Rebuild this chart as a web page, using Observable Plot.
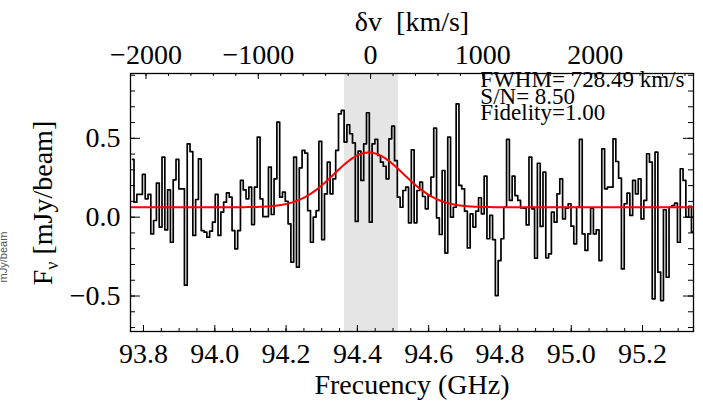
<!DOCTYPE html>
<html><head><meta charset="utf-8">
<script src="https://cdn.jsdelivr.net/npm/d3@7"></script>
<script src="https://cdn.jsdelivr.net/npm/@observablehq/plot@0.6"></script>
<style>
html,body{margin:0;padding:0;background:#fff;}
#chart{width:703px;height:404px;overflow:hidden;}
</style></head><body><div id="chart"></div>
<script>
// Spectrum channel fluxes (mJy/beam), read left to right
const fluxLow = [0.366,0.095,0.144,0.144,0.271,0.116,0.144,-0.106,-0.021,0.216,-0.063,0.381,-0.080,0.173,-0.159,0.237,0.366,0.180,0.180,-0.431,0.465,0.416,-0.116,0.112,0.370,-0.085,-0.095,-0.127,-0.089,-0.032,0.144,-0.116,0.032,0.095,0.154,0.127,-0.085,-0.201,-0.085,0.233,0.173,0.116,0.190,-0.047,0.190,0.507,0.116,0.004,0.004,0.317,0.017,0.243,0.603,0.127,0.159,0.101,-0.042,-0.285,0.381,-0.317,0.313,0.423,0.406];
const fluxMid = [0.042,-0.159,0.0,0.042,0.480,-0.142,0.148,0.349,0.148,0.243,0.423,0.655,0.677,0.476,0.586,0.529,0.471,-0.027,0.419,0.233,0.465,0.662,-0.032,0.465,0.493,0.391,0.349,0.323,0.243,0.497,0.577,0.359,0.127,0.063,0.169,0.190,-0.036,0.427,-0.036,0.169,0.222,0.131,0.053,0.137,0.254,0.564,-0.004,-0.110,0.296,-0.228,0.507,0.0,0.063,0.719,0.201,0.180,0.038,-0.195,0.021,-0.063,0.038,0.123,0.021,0.260,-0.137,0.011,-0.142];
const fluxHigh = [-0.497,-0.275,-0.137,0.063,0.493,0.106,0.260,0.137,0.106,0.059,0.057,-0.049,0.381,0.053,-0.260,0.342,-0.059,0.285,-0.258,-0.233,0.032,-0.032,0.148,0.243,-0.011,0.057,0.085,-0.057,-0.169,0.063,0.493,-0.106,-0.211,-0.106,0.057,-0.106,-0.080,-0.275,0.433,0.180,0.190,0.190,0.497,0.353,0.247,-0.328,0.085,0.152,0.011,0.233,0.148,0.243,-0.011,0.106,0.402,0.349,-0.518,0.412,-0.349,-0.529,0.047,-0.381,0.063,0.074,0.089,-0.159,0.307,0.233,0.0,0.068,-0.095];
const flux = fluxLow.concat(fluxMid, fluxHigh);
const firstChannelGHz = 93.7694;
const channelWidthGHz = 0.007859;

// Gaussian fit parameters
const fitBaseline = 0.063;
const fitAmplitude = 0.347;
const fitCenterGHz = 94.432;
const fitFWHMkms = 728.49;

// Axes
const freqDomain = [93.7635, 95.343];
const fluxDomain = [-0.725, 0.911];
const freqTicks = [93.8, 94.0, 94.2, 94.4, 94.6, 94.8, 95.0, 95.2];
const fluxTicks = [-0.5, 0.0, 0.5];
const velTicks = [-2000, -1000, 0, 1000, 2000];
const restFreqGHz = 94.437;
const lineWindowGHz = [94.364, 94.515];
const noteFreqGHz = 94.745;
const noteLines = ["FWHM= 728.49 km/s", "S/N= 8.50", "Fidelity=1.00"];

const C_KMS = 299792.458;
const v2f = v => restFreqGHz * (1 + v / C_KMS);
const f2v = f => (f / restFreqGHz - 1) * C_KMS;

const spectrum = flux.map((y, i) => ({f: firstChannelGHz + i * channelWidthGHz, y}));
const sigmaGHz = fitFWHMkms / C_KMS * fitCenterGHz / (2 * Math.sqrt(2 * Math.log(2)));
const fitCurve = d3.range(freqDomain[0], freqDomain[1] + 0.001, 0.002).map(f => ({
  f, y: fitBaseline + fitAmplitude * Math.exp(-0.5 * ((f - fitCenterGHz) / sigmaGHz) ** 2)
}));

const W = 703, H = 404, mt = 73, mb = 73, ml = 130, mr = 10;
const plotH = H - mt - mb, plotW = W - ml - mr;
const freqMinor = d3.range(93.75, 95.35, 0.05).filter(f => f > freqDomain[0] && f < freqDomain[1]);
const fluxMinor = d3.range(-0.7, 0.95, 0.1);
const velMinor = d3.range(-2000, 2900, 200);
const font = "'Liberation Serif','Times New Roman',serif";

const svg = Plot.plot({
  width: W, height: H,
  marginTop: mt, marginBottom: mb, marginLeft: ml, marginRight: mr,
  style: {fontFamily: font, background: "#fff", color: "#000"},
  x: {domain: freqDomain, axis: null},
  y: {domain: fluxDomain, axis: null},
  marks: [
    Plot.rect([lineWindowGHz], {x1: d => d[0], x2: d => d[1], fill: "#e5e5e5"}),
    Plot.line(spectrum, {x: "f", y: "y", curve: "step", stroke: "#000", strokeWidth: 1.7, clip: true}),
    Plot.line(fitCurve, {x: "f", y: "y", stroke: "#ff0000", strokeWidth: 2, clip: true}),
    // inward ticks
    Plot.tickX(freqTicks, {x: d => d, insetTop: plotH - 6, stroke: "#000"}),
    Plot.tickX(freqMinor, {x: d => d, insetTop: plotH - 3, stroke: "#000"}),
    Plot.tickX(velTicks.map(v2f), {x: d => d, insetBottom: plotH - 6, stroke: "#000"}),
    Plot.tickX(velMinor.map(v2f), {x: d => d, insetBottom: plotH - 3, stroke: "#000"}),
    Plot.tickY(fluxTicks, {y: d => d, insetRight: plotW - 10, stroke: "#000"}),
    Plot.tickY(fluxMinor, {y: d => d, insetRight: plotW - 5, stroke: "#000"}),
    Plot.tickY(fluxTicks, {y: d => d, insetLeft: plotW - 10, stroke: "#000"}),
    Plot.tickY(fluxMinor, {y: d => d, insetLeft: plotW - 5, stroke: "#000"}),
    Plot.frame({stroke: "#000", strokeWidth: 1.3}),
    Plot.axisX({anchor: "bottom", ticks: freqTicks, tickFormat: d3.format(".1f"), tickSize: 0, tickPadding: 12, fontSize: 28, label: null}),
    Plot.axisX({anchor: "top", ticks: velTicks.map(v2f), tickFormat: f => d3.format("d")(Math.round(f2v(f) / 100) * 100), tickSize: 0, tickPadding: 10, fontSize: 28, label: null}),
    Plot.axisY({anchor: "left", ticks: fluxTicks, tickFormat: d3.format(".1f"), tickSize: 0, tickPadding: 10, fontSize: 28, label: null}),
    Plot.text([noteLines.join("\n")], {x: () => noteFreqGHz, text: d => d, frameAnchor: "top", textAnchor: "start", lineAnchor: "top", lineHeight: 0.72, fontSize: 23, dy: 2, fill: "#000"}),
    Plot.text(["Frecuency (GHz)"], {frameAnchor: "bottom", text: d => d, lineAnchor: "middle", dy: 54, fontSize: 28, fill: "#000"}),
    Plot.text(["δv\u00a0 [km/s]"], {frameAnchor: "top", text: d => d, lineAnchor: "middle", dy: -51, fontSize: 28, fill: "#000"})
  ]
});

const s = d3.select(svg);
const yl = s.append("text")
  .attr("transform", `translate(52,${mt + 130}) rotate(-90)`)
  .attr("text-anchor", "middle")
  .attr("font-family", font).attr("font-size", 28).attr("fill", "#000");
yl.append("tspan").text("F");
yl.append("tspan").attr("font-size", 18).attr("dy", 6).text("ν");
yl.append("tspan").attr("dy", -6).text(" [mJy/beam]");
s.append("text")
  .attr("transform", `translate(7,${mt + 184}) rotate(-90)`)
  .attr("text-anchor", "middle")
  .attr("font-family", "'Liberation Sans',Arial,sans-serif").attr("font-size", 11).attr("fill", "#555")
  .text("mJy/beam");

document.getElementById("chart").appendChild(svg);
</script></body></html>
